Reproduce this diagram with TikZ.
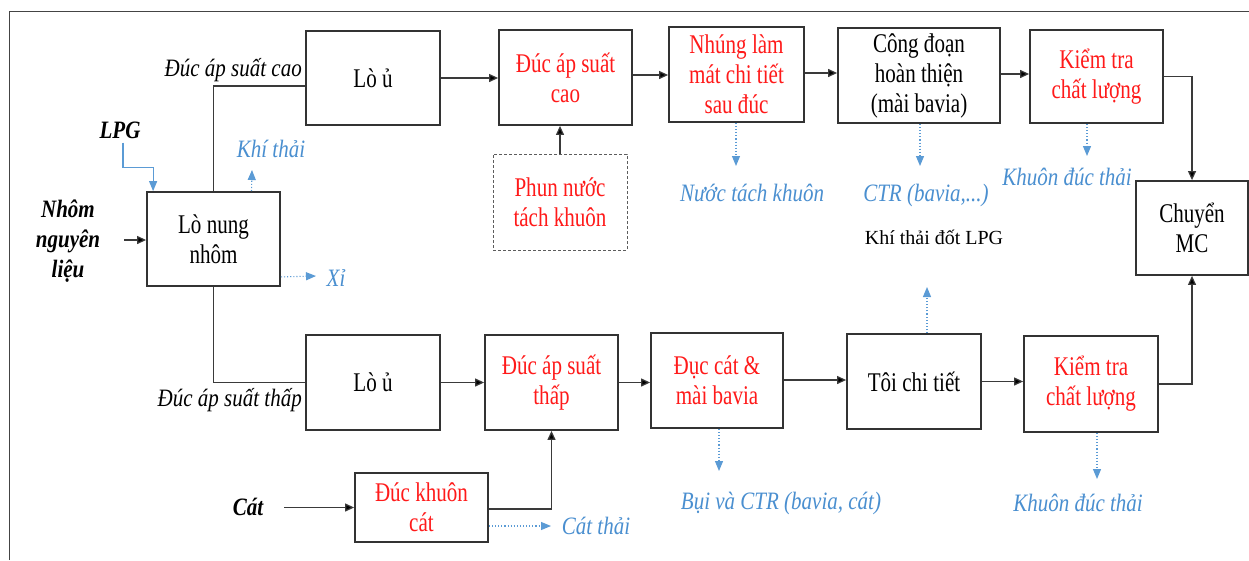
\documentclass[tikz,border=0pt]{standalone}
\usepackage{fontspec}
\setmainfont{Liberation Serif}[FakeStretch=0.78]
\newfontfamily\lblfont{Liberation Serif}[FakeStretch=0.84]
\newfontfamily\plainserif{Liberation Serif}
\usetikzlibrary{arrows.meta,calc}
\definecolor{boxline}{HTML}{333333}
\definecolor{conn}{HTML}{3A3A3A}
\definecolor{redtxt}{HTML}{FF1A1A}
\definecolor{bluetxt}{HTML}{4A8FD0}
\definecolor{bluearr}{HTML}{5B9BD5}
\definecolor{frame}{HTML}{444444}
\begin{document}
\begin{tikzpicture}[x=1pt,y=-1pt,
  box/.style={draw=boxline,line width=1.8pt,align=center,inner sep=0pt,
    font=\fontsize{27}{30}\selectfont},
  dbox/.style={box,draw=boxline!80,line width=1pt,dash pattern=on 3pt off 2pt},
  rtxt/.style={text=redtxt},
  lbl/.style={inner sep=0pt,font=\lblfont\fontsize{25}{30}\selectfont\itshape},
  blbl/.style={lbl,text=bluetxt},
  inlbl/.style={inner sep=0pt,align=center,font=\lblfont\fontsize{25}{30}\selectfont\bfseries\itshape},
  flow/.style={draw=conn,line width=1.2pt,-{Triangle[length=9pt,width=8pt,fill=black]}},
  plain/.style={draw=conn,line width=1.2pt},
  waste/.style={draw=bluearr,line width=1.1pt,dotted,-{Triangle[length=10pt,width=8pt,fill=bluearr]}},
  feed/.style={draw=bluearr,line width=1.1pt,-{Triangle[length=10pt,width=8pt,fill=bluearr]}}
]
\useasboundingbox (0,0) rectangle (1249,560);
\fill[white] (0,0) rectangle (1249,560);
% frame
\draw[frame,line width=1.5pt] (9.5,560) -- (9.5,11.5) -- (1249,11.5);

% boxes
\node[box,minimum width=133pt,minimum height=94pt] (nung) at (213.5,239) {Lò nung\\nhôm};
\node[box,minimum width=134pt,minimum height=94pt] (lou1) at (373,78) {Lò ủ};
\node[box,rtxt,minimum width=133pt,minimum height=95pt] (ducc) at (565.5,77.5) {Đúc áp suất\\cao};
\node[dbox,rtxt,minimum width=134pt,minimum height=96pt] (phun) at (560,202) {Phun nước\\tách khuôn};
\node[box,rtxt,minimum width=135pt,minimum height=95pt] (nhung) at (736.5,74.5) {Nhúng làm\\mát chi tiết\\sau đúc};
\node[box,minimum width=162pt,minimum height=95pt] (cong) at (919,75.5) {Công đoạn\\hoàn thiện\\(mài bavia)};
\node[box,rtxt,minimum width=133pt,minimum height=93pt] (kt1) at (1096.5,76.5) {Kiểm tra\\chất lượng};
\node[box,minimum width=112pt,minimum height=94pt] (chuyen) at (1192,228) {Chuyển\\MC};
\node[box,minimum width=134pt,minimum height=95pt] (lou2) at (373,382.5) {Lò ủ};
\node[box,rtxt,minimum width=133pt,minimum height=95pt] (ducth) at (551.5,382.5) {Đúc áp suất\\thấp};
\node[box,rtxt,minimum width=132pt,minimum height=95pt] (duccat) at (717,380.5) {Đục cát \&\\mài bavia};
\node[box,minimum width=134pt,minimum height=95pt] (toi) at (914,381.5) {Tôi chi tiết};
\node[box,rtxt,minimum width=134pt,minimum height=96pt] (kt2) at (1091,384) {Kiểm tra\\chất lượng};
\node[box,rtxt,minimum width=133pt,minimum height=69pt] (khuon) at (421.5,507.5) {Đúc khuôn\\cát};

% input labels
\node[inlbl] (nhom) at (68,241) {Nhôm\\nguyên\\liệu};
\node[inlbl] (lpg) at (120,130) {LPG};
\node[inlbl] (cat) at (248,507) {Cát};

% branch labels
\node[lbl,anchor=east] (lblcao) at (302,70) {Đúc áp suất cao};
\node[lbl,anchor=east] (lblthap) at (302,400) {Đúc áp suất thấp};

% waste labels
\node[blbl] (khithai) at (271,149) {Khí thải};
\node[blbl] (xi) at (336,278) {Xỉ};
\node[blbl] (nuoc) at (752,193) {Nước tách khuôn};
\node[blbl] (ctr) at (926,195) {CTR (bavia,...)};
\node[inner sep=0pt,font=\plainserif\fontsize{20}{22}\selectfont] (khilpg) at (934,237) {Khí thải đốt LPG};
\node[blbl] (kdt1) at (1067,177) {Khuôn đúc thải};
\node[blbl] (kdt2) at (1078,503) {Khuôn đúc thải};
\node[blbl] (bui) at (781,503) {Bụi và CTR (bavia, cát)};
\node[blbl] (catthai) at (596,526) {Cát thải};

% coordinates for free ends
\coordinate (cNhom) at (124,240);
\coordinate (cCatIn) at (284,507.5);
\coordinate (cKhi) at (252,170);
\coordinate (cXi) at (316,276);
\coordinate (cNuoc) at (736,166);
\coordinate (cCtr) at (920,166);
\coordinate (cKdt1) at (1087,156);
\coordinate (cToi) at (927,287);
\coordinate (cBui) at (719,471);
\coordinate (cKdt2) at (1097,479);
\coordinate (cCat) at (551,526);

% main flow
\draw[flow] (cNhom) -- (cNhom -| nung.west);
\draw[plain] (nung.north) |- ($(lou1.west)+(0,8)$);
\draw[plain] (nung.south) |- (lou2.west);
\draw[flow] (lou1.east) -- (lou1.east -| ducc.west);
\draw[flow] ($(ducc.east)+(0,-2.5)$) -- ($(ducc.east -| nhung.west)+(0,-2.5)$);
\draw[flow] ($(nhung.east)+(0,-1.5)$) -- ($(nhung.east -| cong.west)+(0,-1.5)$);
\draw[flow] ($(cong.east)+(0,-1.5)$) -- ($(cong.east -| kt1.west)+(0,-1.5)$);
\draw[flow] (kt1.east) -| (chuyen.north);
\draw[flow] (phun.north) -- (phun.north |- ducc.south);
\draw[flow] (lou2.east) -- (lou2.east -| ducth.west);
\draw[flow] (ducth.east) -- (ducth.east -| duccat.west);
\draw[flow] ($(duccat.east)+(0,-0.5)$) -- ($(duccat.east -| toi.west)+(0,-0.5)$);
\draw[flow] (toi.east) -- (toi.east -| kt2.west);
\draw[flow] (kt2.east) -| (chuyen.south);
\draw[flow] (cCatIn) -- (khuon.west);
\draw[flow] ($(khuon.east)+(0,1.5)$) -| (ducth.south);

% LPG feed
\draw[feed] ($(lpg.south)+(3,4)$) |- ($(nung.north west)+(7,-24)$) -- ($(nung.north west)+(7,0)$);

% waste arrows
\draw[waste] ($(nung.north)+(38,0)$) -- (cKhi);
\draw[waste] ($(nung.south east)+(0,-10)$) -- (cXi);
\draw[waste] ($(nhung.south)+(-0.5,0)$) -- (cNuoc);
\draw[waste] ($(cong.south)+(1,0)$) -- (cCtr);
\draw[waste] ($(kt1.south)+(-9.5,0)$) -- (cKdt1);
\draw[waste] ($(toi.north)+(13,0)$) -- (cToi);
\draw[waste] ($(duccat.south)+(2,0)$) -- (cBui);
\draw[waste] ($(kt2.south)+(6,0)$) -- (cKdt2);
\draw[waste] ($(khuon.east)+(0,18.5)$) -- (cCat);
\end{tikzpicture}
\end{document}
